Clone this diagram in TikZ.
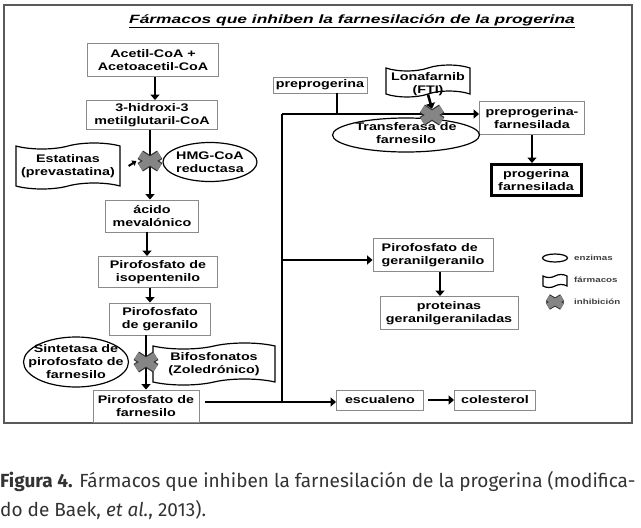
\documentclass[tikz,border=0pt]{standalone}
\usepackage{fontspec}
\setmainfont{Liberation Sans}
\newfontfamily\diag{Liberation Sans}[FakeStretch=1.3]
\newfontfamily\titfont{Liberation Sans}[FakeStretch=1.45]
\newfontfamily\capfont{Fira Sans}
\usetikzlibrary{shapes.geometric,shapes.symbols,arrows.meta}
\definecolor{boxgray}{HTML}{8A8A8A}
\definecolor{xgray}{HTML}{858585}
\definecolor{capgray}{HTML}{333333}
\begin{document}
\begin{tikzpicture}[x=1pt,y=-1pt,
  lbl/.style={font=\diag\bfseries\fontsize{11}{13}\selectfont, align=center, inner sep=0pt},
  bx/.style={lbl, draw=boxgray, line width=0.9pt, fill=white},
  enz/.style={ellipse, draw=black, line width=1.2pt, fill=white, inner sep=0pt},
  drug/.style={tape, draw=black, line width=1.2pt, fill=white, tape bend height=6pt, inner sep=0pt},
  xm/.style={minimum width=19pt, minimum height=12pt, inner sep=0pt},
  xout/.style={line width=10pt, black!80},
  xin/.style={line width=7.6pt, xgray},
  arr/.style={line width=2.6pt, -{Triangle[length=5.5pt,width=9pt]}},
  trunk/.style={line width=2.6pt},
  legtxt/.style={font=\diag\bfseries\fontsize{7.5}{9}\selectfont, text=black!75, anchor=west, inner sep=0pt}
]
\useasboundingbox (0,0) rectangle (641,528);
\fill[white] (0,0) rectangle (641,528);
% frame
\draw[line width=2pt, draw=black!65] (4,5) rectangle (632,423);
% title
\node[font=\titfont\bfseries\itshape\fontsize{12}{14}\selectfont, inner sep=0pt] (title) at (352,21) {\underline{Fármacos que inhiben la farnesilación de la progerina}};

% left column
\node[bx, minimum width=131pt, minimum height=33pt] (acetil) at (153,60) {Acetil-CoA +\\Acetoacetil-CoA};
\node[bx, minimum width=131pt, minimum height=29pt] (hidroxi) at (152,115) {3-hidroxi-3\\metilglutaril-CoA};
\node[drug, minimum width=104pt, minimum height=46pt] (estat) at (68,166) {};
\node[lbl] (estatT) at (estat) {Estatinas\\(prevastatina)};
\node[enz, minimum width=94pt, minimum height=39pt] (hmg) at (210,162) {};
\node[bx, minimum width=93pt, minimum height=32pt] (acido) at (152,216) {ácido\\mevalónico};
\node[bx, minimum width=119pt, minimum height=31pt] (isop) at (158,272) {Pirofosfato de\\isopentenilo};
\node[bx, minimum width=101pt, minimum height=32pt] (geran) at (160,319) {Pirofosfato\\de geranilo};
\node[enz, minimum width=105pt, minimum height=50pt] (sint) at (76,362) {};
\node[drug, minimum width=122pt, minimum height=42pt] (bifos) at (214,364) {};
\node[bx, minimum width=106pt, minimum height=32pt] (farn) at (146,406) {Pirofosfato de\\farnesilo};

% right part
\node[bx, minimum width=94pt, minimum height=16pt] (prepro) at (320,85) {preprogerina};
\node[drug, minimum width=84pt, minimum height=32pt] (lona) at (428,81) {};
\node[bx, minimum width=105pt, minimum height=33pt] (ppf) at (532,118) {preprogerina-\\farnesilada};
\node[lbl, draw=black, line width=3pt, fill=white, minimum width=90pt, minimum height=31pt] (pfar) at (536,180) {progerina\\farnesilada};
\node[bx, minimum width=120pt, minimum height=33pt, align=left] (ggpp) at (433,255) {Pirofosfato de\\geranilgeranilo};
\node[bx, minimum width=138pt, minimum height=33pt] (prot) at (449,313) {proteinas\\geranilgeraniladas};
\node[bx, minimum width=87pt, minimum height=20pt] (escu) at (380,400) {escualeno};
\node[bx, minimum width=81pt, minimum height=20pt] (coles) at (495,400) {colesterol};

% column coordinates
\coordinate (colA) at (150,0);
\coordinate (colB) at (147,0);
\coordinate (colC) at (150,0);
\coordinate (colD) at (146,0);
\coordinate (tk) at (282,0);
\coordinate (topy) at (0,114);
\coordinate (ggy) at (0,260);
\coordinate (boty) at (0,402);

% connectors left
\draw[arr] (acetil.south -| 155,0) -- (hidroxi.north -| 155,0);
\draw[arr] (hidroxi.south -| colA) -- (acido.north -| colA);
\draw[arr] (acido.south -| colB) -- (isop.north -| colB);
\draw[arr] (isop.south -| colC) -- (geran.north -| colC);
\draw[arr] (geran.south -| colD) -- (farn.north -| colD);

% trunk
\draw[trunk] (tk |- boty) -- (tk |- topy);
\draw[arr] (tk |- topy) -- (ppf.west |- topy);
\draw[trunk] (prepro.south -| 337,0) -- (topy -| 337,0);
\draw[arr] (tk |- ggy) -- (ggpp.west |- ggy);
\draw[arr] (farn.east |- boty) ++(6,0) -- (escu.west |- boty);
\draw[arr] (escu.east) ++(4,0) -- (coles.west);
\draw[arr] (ppf.south) -- (ppf.south |- pfar.north);
\draw[arr] (ggpp.south -| 440,0) -- (prot.north -| 440,0);

% inhibition marks
\node[xm] (xA) at (150,161) {};
\node[xm] (xB) at (146,362) {};
\foreach \n in {xA,xB}{
  \draw[xout] (\n.north west) -- (\n.south east) (\n.south west) -- (\n.north east);
  \draw[xin] (\n.north west) -- (\n.south east) (\n.south west) -- (\n.north east);
}
\draw[line width=2pt, -{Triangle[length=4pt,width=6pt]}] (estat.east) ++(8,0) -- ([xshift=-4pt]xA.west);
\node[lbl] (hmgT) at (hmg) {HMG-CoA\\reductasa};
\node[lbl] (sintT) at (sint) {Sintetasa de\\pirofosfato de\\farnesilo};
\node[lbl] (bifosT) at (bifos) {Bifosfonatos\\(Zoledrónico)};
\node[lbl] (lonaT) at ([yshift=-3pt]lona.center) {Lonafarnib\\(FTI)};
\node[enz, minimum width=147pt, minimum height=34pt] (transf) at (406,135) {};
\node[lbl] (transfT) at ([yshift=2pt]transf.center) {Transferasa de\\farnesilo};
\node[xm] (xC) at (432,115) {};
\draw[arr] (lona.south) -- (xC.north);
\draw[xout] (xC.north west) -- (xC.south east) (xC.south west) -- (xC.north east);
\draw[xin] (xC.north west) -- (xC.south east) (xC.south west) -- (xC.north east);

% legend
\node[ellipse, draw=black, line width=1.2pt, minimum width=25pt, minimum height=8pt, inner sep=0pt] (lgE) at (555,258) {};
\node[tape, draw=black, line width=1.2pt, minimum width=24pt, minimum height=13pt, inner sep=0pt, tape bend height=3pt] (lgD) at (555,281) {};
\node[xm, minimum width=14pt, minimum height=8pt] (lgX) at (555,302) {};
\draw[line width=8pt, black!80] (lgX.north west) -- (lgX.south east) (lgX.south west) -- (lgX.north east);
\draw[line width=6pt, xgray] (lgX.north west) -- (lgX.south east) (lgX.south west) -- (lgX.north east);
\node[legtxt] (tE) at (574,258) {enzimas};
\node[legtxt] (tD) at (574,280) {fármacos};
\node[legtxt] (tX) at (574,302) {inhibición};

% caption
\node[font=\capfont\fontsize{19}{23}\selectfont, text=capgray, anchor=base west, inner sep=0pt] (cap1) at (0,487) {\textbf{Figura 4.} Fármacos que inhiben la farnesilación de la progerina (modifica-};
\node[font=\capfont\fontsize{19}{23}\selectfont, text=capgray, anchor=base west, inner sep=0pt] (cap2) at (0,516) {do de Baek, \textit{et al.}, 2013).};
\end{tikzpicture}
\end{document}
